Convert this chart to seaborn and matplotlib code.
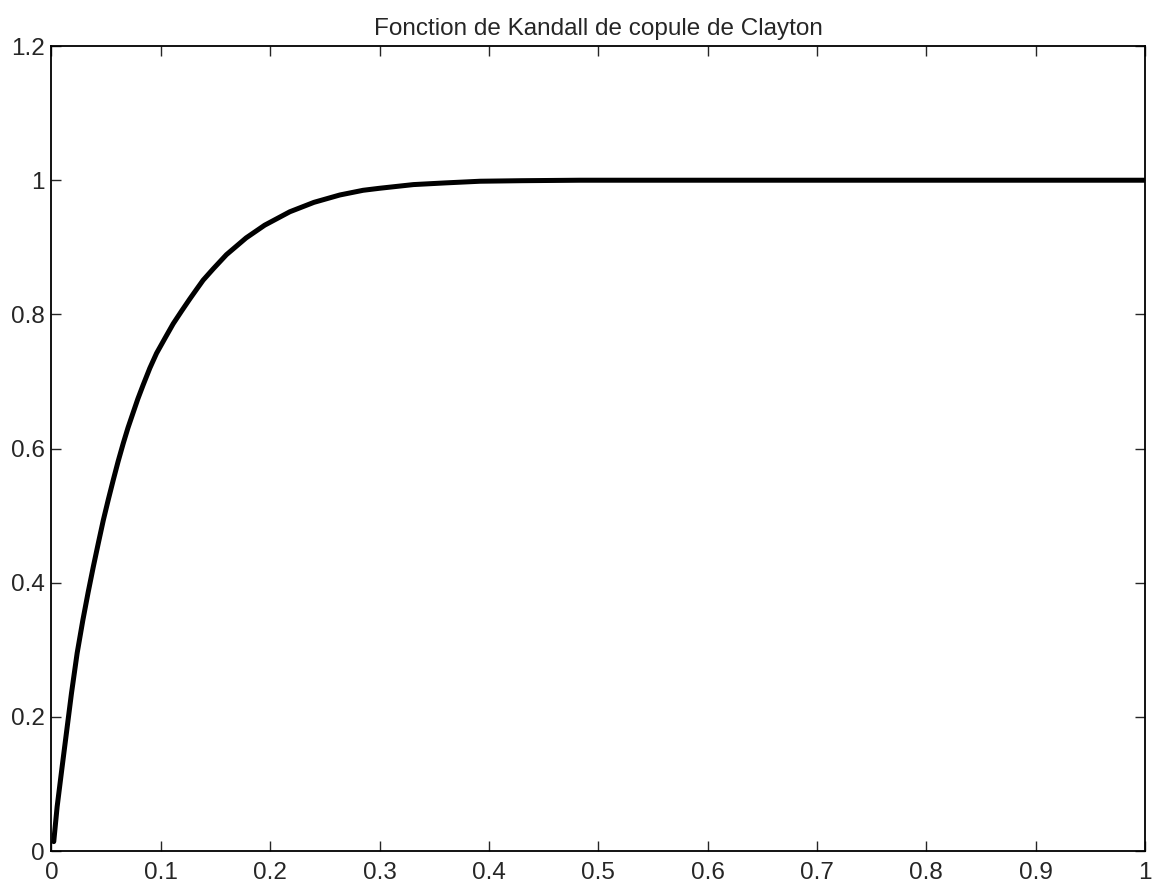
import matplotlib
matplotlib.use("Agg")
import matplotlib.pyplot as plt
import seaborn as sns
import pandas as pd

sns.set_style("ticks")
plt.rcParams["font.family"] = ["Liberation Sans", "DejaVu Sans"]

# values
t_values = [0.0021, 0.0052, 0.0098, 0.0144, 0.0183, 0.0235, 0.0287, 0.0336,
            0.0383, 0.0430, 0.0474, 0.0520, 0.0565, 0.0610, 0.0657, 0.0700,
            0.0748, 0.0790, 0.0839, 0.0900, 0.0961, 0.1040, 0.1113, 0.1190,
            0.1265, 0.1330, 0.1387, 0.148, 0.160, 0.178, 0.195, 0.218,
            0.240, 0.2637, 0.285, 0.300, 0.331, 0.360, 0.392, 0.430,
            0.483, 0.550, 0.650, 0.750, 0.850, 0.950, 1.000]
k_values = [0.014, 0.066, 0.126, 0.185, 0.235, 0.295, 0.344, 0.386,
            0.424, 0.460, 0.493, 0.524, 0.553, 0.581, 0.608, 0.631,
            0.654, 0.674, 0.695, 0.720, 0.742, 0.765, 0.786, 0.805,
            0.823, 0.838, 0.851, 0.868, 0.889, 0.914, 0.933, 0.953,
            0.967, 0.978, 0.985, 0.988, 0.9935, 0.996, 0.9985, 0.9993,
            1.000, 1.000, 1.000, 1.000, 1.000, 1.000, 1.000]

x_ticks = [0, 0.1, 0.2, 0.3, 0.4, 0.5, 0.6, 0.7, 0.8, 0.9, 1]
x_labels = ["0", "0.1", "0.2", "0.3", "0.4", "0.5", "0.6", "0.7", "0.8", "0.9", "1"]
y_ticks = [0, 0.2, 0.4, 0.6, 0.8, 1, 1.2]
y_labels = ["0", "0.2", "0.4", "0.6", "0.8", "1", "1.2"]

df = pd.DataFrame({"t": t_values, "K": k_values})

fig = plt.figure(figsize=(11.64, 8.86), dpi=100)
ax = fig.add_axes([0.0442, 0.0395, 0.9395, 0.9085])

sns.lineplot(data=df, x="t", y="K", ax=ax, color="black", linewidth=3.6,
             estimator=None, sort=False)

ax.set_xlim(0, 1)
ax.set_ylim(0, 1.2)
ax.set_xticks(x_ticks)
ax.set_xticklabels(x_labels)
ax.set_yticks(y_ticks)
ax.set_yticklabels(y_labels)
ax.set_xlabel("")
ax.set_ylabel("")
ax.tick_params(direction="in", length=7, width=1, labelsize=17.5,
               top=True, right=True, pad=5)
ax.tick_params(axis="x", pad=8)
for s in ax.spines.values():
    s.set_visible(True)
    s.set_linewidth(1.3)
    s.set_color("black")

ax.set_title("Fonction de Kandall de copule de Clayton", fontsize=17.5, pad=8)

fig.savefig("out.png", dpi=100)
